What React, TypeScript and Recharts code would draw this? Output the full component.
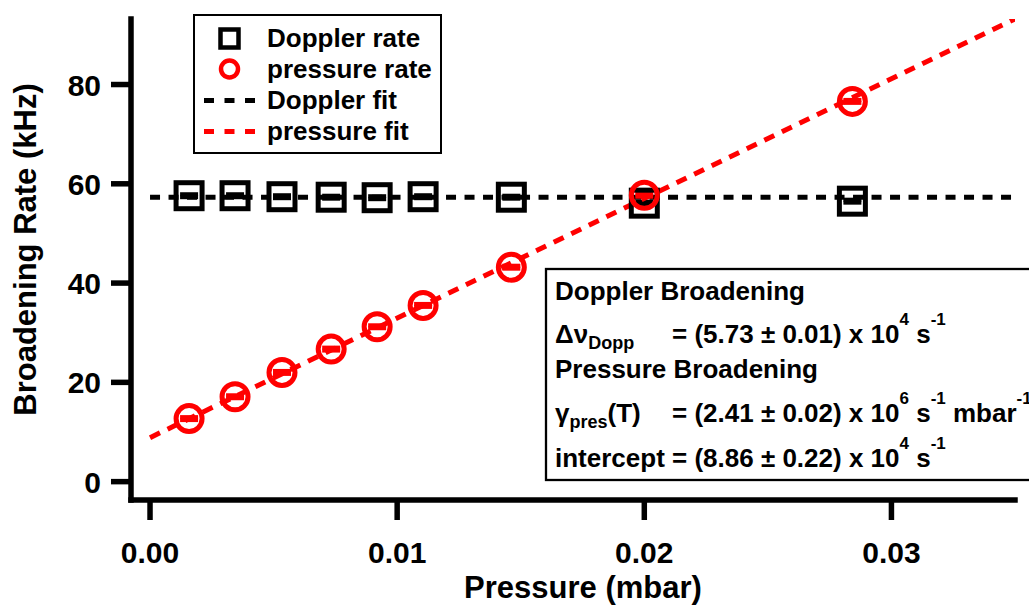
import React from 'react';
import { ComposedChart, Scatter, Line, XAxis, YAxis, ErrorBar, Legend, ReferenceLine } from 'recharts';

const FONT = '"Liberation Sans", Arial, sans-serif';

// measured points (pressure in mbar, rates in kHz)
const pressure = [0.00158, 0.00344, 0.00534, 0.00733, 0.00919, 0.01105, 0.01462, 0.0200, 0.02842];
const dopplerRate = [57.6, 57.6, 57.4, 57.3, 57.2, 57.4, 57.3, 56.1, 56.5];
const dopplerErr = [0.3, 0.3, 0.3, 0.3, 0.3, 0.3, 0.3, 0.3, 0.3];
const pressureRate = [12.7, 17.1, 22.0, 26.7, 31.2, 35.5, 43.2, 57.7, 76.6];
const pressureErr = [0.3, 0.3, 0.3, 0.3, 0.3, 0.3, 0.3, 0.3, 0.3];

// fit results
const dopplerFitValue = 57.3;
const pressureSlope = 2410; // kHz / mbar
const pressureIntercept = 8.86;
const fitRange = [0, 0.035];

const xDomain = [-0.00077, 0.035];
const yDomain = [-3.7, 93.2];
const xTicks = [0, 0.01, 0.02, 0.03];
const yTicks = [0, 20, 40, 60, 80];
const legendOrder = ['Doppler rate', 'pressure rate', 'Doppler fit', 'pressure fit'];

const dopplerData = pressure.map((p, i) => ({ p, y: dopplerRate[i], err: dopplerErr[i] }));
const pressureData = pressure.map((p, i) => ({ p, y: pressureRate[i], err: pressureErr[i] }));
const dopplerFit = fitRange.map((p) => ({ p, y: dopplerFitValue }));
const pressureFit = fitRange.map((p) => ({ p, y: pressureIntercept + pressureSlope * p }));

const TICK_SIZE = 20;
const X_MARGIN = 22;
const Y_MARGIN = 10;
const AXIS_W = 5.5;

// ticks drawn by hand so the tick marks get the heavy Igor look
const XTick = (props: any) => {
  const { x, y, payload } = props;
  const axisY = y - TICK_SIZE - X_MARGIN;
  return (
    <g>
      <line x1={x} y1={axisY} x2={x} y2={axisY + TICK_SIZE} stroke="#000" strokeWidth={AXIS_W} />
      <text x={x} y={y + 21} textAnchor="middle" fontFamily={FONT} fontWeight={700} fontSize={30} fill="#000">
        {Number(payload.value).toFixed(2)}
      </text>
    </g>
  );
};

const YTick = (props: any) => {
  const { x, y, payload } = props;
  const axisX = x + TICK_SIZE + Y_MARGIN;
  return (
    <g>
      <line x1={axisX - TICK_SIZE} y1={y} x2={axisX} y2={y} stroke="#000" strokeWidth={AXIS_W} />
      <text x={x} y={y + 11} textAnchor="end" fontFamily={FONT} fontWeight={700} fontSize={30} fill="#000">
        {payload.value}
      </text>
    </g>
  );
};

const SquareMarker = (props: any) => (
  <rect x={props.cx - 13} y={props.cy - 13} width={26} height={26} fill="none" stroke="#000" strokeWidth={5} />
);

const CircleMarker = (props: any) => (
  <circle cx={props.cx} cy={props.cy} r={13} fill="none" stroke="#ff0000" strokeWidth={5} />
);

function LegendSymbol({ name }: { name: string }) {
  if (name === 'Doppler rate')
    return <rect x={25.5} y={6.5} width={18} height={18} fill="none" stroke="#000" strokeWidth={4.5} />;
  if (name === 'pressure rate')
    return <circle cx={34.5} cy={15} r={8.5} fill="none" stroke="#ff0000" strokeWidth={4.5} />;
  const color = name === 'Doppler fit' ? '#000' : '#ff0000';
  return <line x1={9} y1={15.5} x2={60} y2={15.5} stroke={color} strokeWidth={5} strokeDasharray="10 10.5" />;
}

function LegendBox({ payload }: any) {
  const items = [...(payload || [])]
    .filter((a: any) => legendOrder.includes(a.value))
    .sort((a: any, b: any) => legendOrder.indexOf(a.value) - legendOrder.indexOf(b.value));
  return (
    <div
      style={{
        position: 'relative',
        width: 245,
        height: 136,
        border: '2px solid #000',
        background: '#fff',
        fontFamily: FONT,
        fontWeight: 700,
        fontSize: 26,
      }}
    >
      {items.map((item: any, i: number) => (
        <div key={item.value} style={{ position: 'absolute', left: 0, top: 6.5 + 31.3 * i, height: 31, width: 245 }}>
          <svg width={72} height={31} style={{ position: 'absolute', left: 0, top: 0 }}>
            <LegendSymbol name={item.value} />
          </svg>
          <span style={{ position: 'absolute', left: 72, top: 0, lineHeight: '31px', whiteSpace: 'nowrap' }}>
            {item.value}
          </span>
        </div>
      ))}
    </div>
  );
}

const YTitle = (props: any) => {
  const { viewBox } = props;
  const x = viewBox.x + 5;
  const y = viewBox.y + viewBox.height / 2 - 10;
  return (
    <text x={x} y={y} transform={`rotate(-90, ${x}, ${y})`} textAnchor="middle"
      fontFamily={FONT} fontWeight={700} fontSize={31} fill="#000">
      Broadening Rate (kHz)
    </text>
  );
};

const XTitle = (props: any) => {
  const { viewBox } = props;
  const x = viewBox.x + viewBox.width / 2 + 10;
  const y = viewBox.y + 98;
  return (
    <text x={x} y={y} textAnchor="middle" fontFamily={FONT} fontWeight={700} fontSize={31} fill="#000">
      Pressure (mbar)
    </text>
  );
};

function FitBox() {
  const t = { fontFamily: FONT, fontWeight: 700, fontSize: 26, fill: '#000' };
  return (
    <svg width={1029} height={607} style={{ position: 'absolute', left: 0, top: 0, pointerEvents: 'none' }}>
      <rect x={546} y={269} width={500} height={211} fill="#fff" stroke="#000" strokeWidth={2.3} />
      <text x={555} y={300} {...t}>Doppler Broadening</text>
      <text x={555} y={343} {...t}>
        Δν<tspan fontSize={18} dy={6}>Dopp</tspan>
      </text>
      <text x={672} y={343} {...t}>
        = (5.73 ± 0.01) x 10<tspan fontSize={17} dy={-18}>4</tspan>
        <tspan dy={18}> s</tspan><tspan fontSize={17} dy={-18}>-1</tspan>
      </text>
      <text x={555} y={378} {...t}>Pressure Broadening</text>
      <text x={555} y={422} {...t}>
        γ<tspan fontSize={18} dy={6}>pres</tspan><tspan dy={-6}>(T)</tspan>
      </text>
      <text x={672} y={422} {...t}>
        = (2.41 ± 0.02) x 10<tspan fontSize={17} dy={-18}>6</tspan>
        <tspan dy={18}> s</tspan><tspan fontSize={17} dy={-18}>-1</tspan>
        <tspan dy={18}> mbar</tspan><tspan fontSize={17} dy={-18}>-1</tspan>
      </text>
      <text x={555} y={467} {...t}>
        intercept = (8.86 ± 0.22) x 10<tspan fontSize={17} dy={-18}>4</tspan>
        <tspan dy={18}> s</tspan><tspan fontSize={17} dy={-18}>-1</tspan>
      </text>
    </svg>
  );
}

export default function App() {
  return (
    <div style={{ position: 'absolute', left: 0, top: 0, width: 1029, height: 607, background: '#fff' }}>
      <ComposedChart width={1029} height={607} margin={{ top: 19, right: 14, bottom: 0, left: 31 }}>
        <XAxis
          dataKey="p"
          type="number"
          domain={xDomain}
          allowDataOverflow
          ticks={xTicks}
          height={107}
          tickSize={TICK_SIZE}
          tickMargin={X_MARGIN}
          tick={<XTick />}
          axisLine={false}
          tickLine={false}
          label={{ content: XTitle }}
        />
        <YAxis
          type="number"
          domain={yDomain}
          allowDataOverflow
          ticks={yTicks}
          width={100}
          tickSize={TICK_SIZE}
          tickMargin={Y_MARGIN}
          tick={<YTick />}
          axisLine={false}
          tickLine={false}
          label={{ content: YTitle }}
        />
        <ReferenceLine x={xDomain[0]} stroke="#000" strokeWidth={AXIS_W} strokeLinecap="square" />
        <ReferenceLine y={yDomain[0]} stroke="#000" strokeWidth={AXIS_W} strokeLinecap="square" />
        <Legend
          content={<LegendBox />}
          layout="vertical"
          align="center"
          verticalAlign="middle"
          wrapperStyle={{ left: 193, top: 14, width: 'auto' }}
        />
        <Line
          name="Doppler fit"
          data={dopplerFit}
          dataKey="y"
          stroke="#000"
          strokeWidth={5}
          strokeDasharray="10 8.5"
          dot={false}
          activeDot={false}
          isAnimationActive={false}
        />
        <Scatter name="Doppler rate" data={dopplerData} dataKey="y" fill="#000" shape={SquareMarker} isAnimationActive={false}>
          <ErrorBar dataKey="err" direction="y" width={9} strokeWidth={4} stroke="#000" />
        </Scatter>
        <Line
          name="pressure fit"
          data={pressureFit}
          dataKey="y"
          stroke="#ff0000"
          strokeWidth={5}
          strokeDasharray="11 8.5"
          dot={false}
          activeDot={false}
          isAnimationActive={false}
        />
        <Scatter name="pressure rate" data={pressureData} dataKey="y" fill="#ff0000" shape={CircleMarker} isAnimationActive={false}>
          <ErrorBar dataKey="err" direction="y" width={9} strokeWidth={4} stroke="#ff0000" />
        </Scatter>
      </ComposedChart>
      <FitBox />
    </div>
  );
}
